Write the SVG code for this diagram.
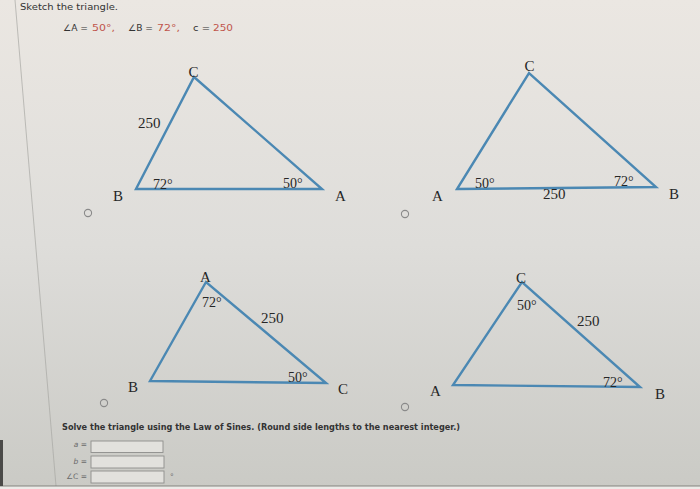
<svg xmlns="http://www.w3.org/2000/svg" width="700" height="489" viewBox="0 0 700 489">
  <defs>
    <linearGradient id="bg" x1="0" y1="0" x2="0" y2="1">
      <stop offset="0" stop-color="#ebe7e2"/>
      <stop offset="0.5" stop-color="#dedddA"/>
      <stop offset="1" stop-color="#cacac5"/>
    </linearGradient>
    <style>
      .tri { fill: none; stroke: #4b88b3; stroke-width: 2.4; stroke-linejoin: miter; }
      .lbl { font-family: "Liberation Serif", "DejaVu Serif", serif; font-size: 15px; fill: #262626; }
      .ang { font-family: "Liberation Serif", "DejaVu Serif", serif; font-size: 14px; fill: #262626; }
      .radio { fill: none; stroke: #8a8a8a; stroke-width: 1.1; }
      .ui { font-family: "DejaVu Sans", "Liberation Sans", sans-serif; fill: #333333; }
      .red { fill: #c0554c; }
      .gray { fill: #6a6a6a; }
      .box { fill: #e2e1dd; stroke: #8e8e8c; stroke-width: 0.9; }
    </style>
  </defs>
  <rect x="0" y="0" width="700" height="489" fill="url(#bg)"/>
  <line x1="15" y1="0" x2="56" y2="486" stroke="#a8a8a4" stroke-width="0.7"/>
  <rect x="0" y="486" width="700" height="3" fill="#ecebe8"/>
  <line x1="0" y1="486" x2="700" y2="486" stroke="#6e6e6a" stroke-width="0.8"/>
  <rect x="0" y="440" width="3" height="46" fill="#4a4a48"/>

  <g id="header">
    <text class="ui" x="20" y="10" font-size="9.5" textLength="98" lengthAdjust="spacingAndGlyphs">Sketch the triangle.</text>
    <text class="ui" x="63" y="31" font-size="9" textLength="25" lengthAdjust="spacingAndGlyphs">∠A =</text>
    <text class="ui red" x="92" y="31" font-size="9" textLength="23" lengthAdjust="spacingAndGlyphs">50°,</text>
    <text class="ui" x="128" y="31" font-size="9" textLength="25" lengthAdjust="spacingAndGlyphs">∠B =</text>
    <text class="ui red" x="157" y="31" font-size="9" textLength="23" lengthAdjust="spacingAndGlyphs">72°,</text>
    <text class="ui" x="193" y="31" font-size="9" textLength="17" lengthAdjust="spacingAndGlyphs">c =</text>
    <text class="ui red" x="213" y="31" font-size="9" textLength="20" lengthAdjust="spacingAndGlyphs">250</text>
  </g>

  <g id="option1">
    <polygon class="tri" points="136,189 322,189 194,77"/>
    <text class="lbl" x="193.5" y="77" text-anchor="middle">C</text>
    <text class="lbl" x="138" y="128">250</text>
    <text class="ang" x="153" y="188.5">72°</text>
    <text class="ang" x="283" y="188">50°</text>
    <text class="lbl" x="113" y="201">B</text>
    <text class="lbl" x="335" y="201">A</text>
    <circle class="radio" cx="88" cy="213" r="3.6"/>
  </g>

  <g id="option2">
    <polygon class="tri" points="457,189 656,187 529,73"/>
    <text class="lbl" x="529.5" y="71" text-anchor="middle">C</text>
    <text class="ang" x="475" y="188">50°</text>
    <text class="ang" x="614" y="186">72°</text>
    <text class="lbl" x="543" y="199">250</text>
    <text class="lbl" x="432" y="201">A</text>
    <text class="lbl" x="669" y="199">B</text>
    <circle class="radio" cx="405" cy="214" r="3.6"/>
  </g>

  <g id="option3">
    <polygon class="tri" points="150,381 326,383 206,282"/>
    <text class="lbl" x="205.5" y="282" text-anchor="middle">A</text>
    <text class="ang" x="202" y="307">72°</text>
    <text class="lbl" x="261" y="323">250</text>
    <text class="ang" x="288" y="382">50°</text>
    <text class="lbl" x="128" y="392">B</text>
    <text class="lbl" x="338" y="394">C</text>
    <circle class="radio" cx="104" cy="403" r="3.6"/>
  </g>

  <g id="option4">
    <polygon class="tri" points="453,385 640,387 522,282"/>
    <text class="lbl" x="521" y="283" text-anchor="middle">C</text>
    <text class="ang" x="517" y="309.5">50°</text>
    <text class="lbl" x="577" y="325.5">250</text>
    <text class="ang" x="603" y="387">72°</text>
    <text class="lbl" x="430" y="396">A</text>
    <text class="lbl" x="655" y="399">B</text>
    <circle class="radio" cx="405" cy="407" r="3.6"/>
  </g>

  <g id="answers">
    <text class="ui" x="62" y="430" font-size="8.5" font-weight="bold" textLength="398" lengthAdjust="spacingAndGlyphs">Solve the triangle using the Law of Sines. (Round side lengths to the nearest integer.)</text>
    <text class="ui gray" x="87" y="447" font-size="7.5" text-anchor="end"><tspan font-style="italic">a</tspan> =</text>
    <rect class="box" x="91" y="441" width="72" height="11.5"/>
    <text class="ui gray" x="87" y="464" font-size="7.5" text-anchor="end"><tspan font-style="italic">b</tspan> =</text>
    <rect class="box" x="91" y="456" width="73" height="12"/>
    <text class="ui gray" x="87" y="479" font-size="7.5" text-anchor="end">∠C =</text>
    <rect class="box" x="91" y="471" width="73" height="12"/>
    <text class="ui gray" x="170" y="479" font-size="7.5">°</text>
  </g>
</svg>
